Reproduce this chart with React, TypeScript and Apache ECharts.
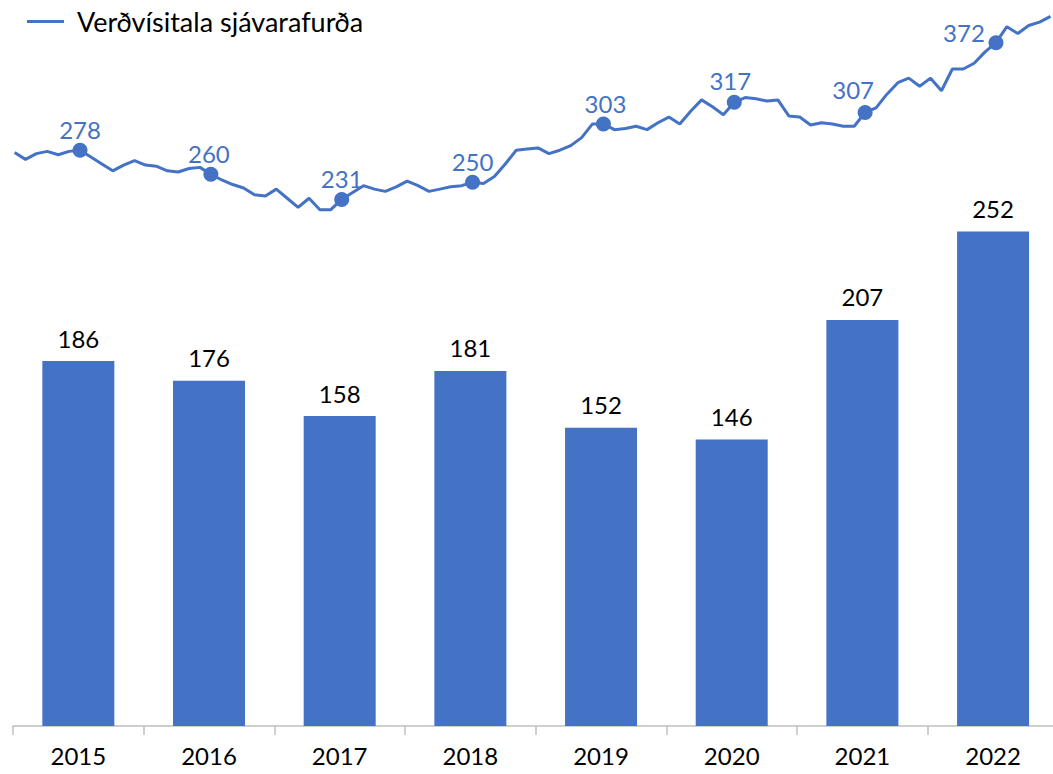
import React, { useEffect, useRef } from "react";
import * as echarts from "echarts";

const years = ["2015", "2016", "2017", "2018", "2019", "2020", "2021", "2022"];
const exportValues = [186, 176, 158, 181, 152, 146, 207, 252];

const lineName = "Verðvísitala sjávarafurða";
// monthly index, Jan 2015 .. Dec 2022
const priceIndex = [
  275, 269, 274, 276, 273, 276, 277, 271, 265, 259, 264, 268,
  264, 263, 259, 258, 261, 262, 256, 251, 247, 244, 238, 237,
  243, 235, 227, 235, 225, 225, 234, 240, 246, 243, 241, 245,
  250, 246, 241, 243, 245, 246, 249, 248, 254, 265, 277, 278,
  279, 274, 277, 281, 288, 300, 300, 295, 296, 298, 295, 301,
  306, 300, 311, 321, 315, 308, 319, 323, 322, 320, 321, 307,
  306, 299, 301, 300, 298, 298, 310, 314, 326, 336, 340, 333,
  340, 329, 348, 348, 353, 363, 371, 385, 379, 386, 389, 394,
];
const monthLabels = priceIndex.map((_, i) => `${years[Math.floor(i / 12)]}-${(i % 12) + 1}`);
// annual figures shown at mid-year markers
const markerIndices = [6, 18, 30, 42, 54, 66, 78, 90];
const markerLabels = [278, 260, 231, 250, 303, 317, 307, 372];
const markerLabelOffsets = [
  [0, -21], [-2, -21], [0, -21], [0, -21], [2, -20], [-4, -22], [-12, -23], [-32, -10],
];

const BLUE = "#4472C4";
const FONT = "Lato";
const CHART_W = 1062;

export default function App() {
  const ref = useRef<HTMLDivElement>(null);
  useEffect(() => {
    document.body.style.margin = "0";
    document.body.style.overflow = "hidden";
    document.documentElement.style.overflow = "hidden";
    if (!ref.current) return;
    const chart = echarts.init(ref.current, undefined, { renderer: "svg" });
    const lineData = priceIndex.map((v, i) => {
      const k = markerIndices.indexOf(i);
      if (k < 0) return { value: v, symbol: "none" };
      return {
        value: v,
        symbol: "circle",
        symbolSize: 15,
        label: {
          show: true,
          position: "inside",
          offset: markerLabelOffsets[k],
          formatter: String(markerLabels[k]),
          color: BLUE,
          fontSize: 24,
          fontFamily: FONT,
        },
      };
    });
    chart.setOption({
      animation: false,
      textStyle: { fontFamily: FONT },
      legend: {
        data: [lineName],
        left: 22,
        top: 3,
        icon: "rect",
        itemWidth: 37,
        itemHeight: 3,
        textStyle: { fontSize: 27, color: "#000", fontFamily: FONT, padding: [0, 0, 0, 8] },
      },
      grid: [
        { left: 13, right: CHART_W - 1058.4, top: 19.7, bottom: 48 },
        { left: 14.6, right: CHART_W - 1050.5, top: 9.53, bottom: 535.7 },
      ],
      xAxis: [
        {
          type: "category",
          gridIndex: 0,
          data: years,
          axisLine: { show: true, lineStyle: { color: "#bfbfbf", width: 1.5 } },
          axisTick: { show: true, length: 9, lineStyle: { color: "#bfbfbf", width: 1.5 } },
          axisLabel: { fontSize: 24, color: "#000", fontFamily: FONT, margin: 17 },
        },
        {
          type: "category",
          gridIndex: 1,
          data: monthLabels,
          boundaryGap: false,
          show: false,
        },
      ],
      yAxis: [
        { type: "value", gridIndex: 0, min: 0, max: 360, show: false, splitLine: { show: false } },
        { type: "value", gridIndex: 1, min: 200, max: 400, show: false, splitLine: { show: false } },
      ],
      series: [
        {
          type: "bar",
          xAxisIndex: 0,
          yAxisIndex: 0,
          data: exportValues,
          barWidth: 72,
          itemStyle: { color: BLUE },
          label: {
            show: true,
            position: "top",
            distance: 11,
            color: "#000",
            fontSize: 24,
            fontFamily: FONT,
          },
        },
        {
          type: "line",
          name: lineName,
          xAxisIndex: 1,
          yAxisIndex: 1,
          data: lineData,
          color: BLUE,
          showAllSymbol: true,
          symbol: "circle",
          symbolSize: 15,
          lineStyle: { color: BLUE, width: 3 },
          itemStyle: { color: BLUE },
          z: 5,
        },
      ],
    });
    return () => chart.dispose();
  }, []);
  return <div ref={ref} style={{ width: CHART_W, height: 774 }} />;
}
